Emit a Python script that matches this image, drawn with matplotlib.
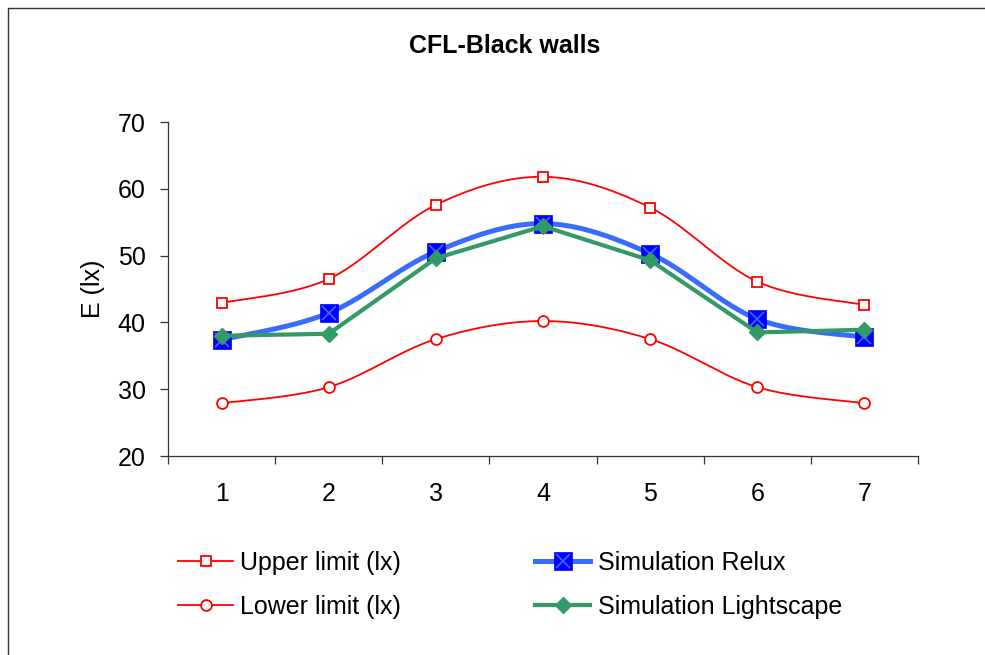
import numpy as np
import matplotlib
matplotlib.use("Agg")
import matplotlib.pyplot as plt
from matplotlib.lines import Line2D
from matplotlib.legend_handler import HandlerTuple

plt.rcParams['font.family'] = ['Liberation Sans', 'DejaVu Sans']

points = [1, 2, 3, 4, 5, 6, 7]
upper = [42.9, 46.5, 57.6, 61.8, 57.2, 46.1, 42.6]
lower = [27.9, 30.3, 37.5, 40.2, 37.5, 30.3, 27.9]
relux = [37.4, 41.4, 50.6, 54.8, 50.3, 40.5, 37.8]
lightscape = [38.0, 38.3, 49.6, 54.4, 49.3, 38.5, 38.9]
title = "CFL-Black walls"
ylabel = "E (lx)"
labels = ["Upper limit (lx)", "Lower limit (lx)", "Simulation Relux", "Simulation Lightscape"]


def smooth(x, y, n=30):
    """Excel-like smoothed line (Catmull-Rom as cubic Bezier)."""
    x = np.asarray(x, float)
    y = np.asarray(y, float)
    P = np.column_stack([x, y])
    out = []
    for i in range(len(P) - 1):
        p0 = P[i - 1] if i > 0 else P[i]
        p1 = P[i]
        p2 = P[i + 1]
        p3 = P[i + 2] if i + 2 < len(P) else P[i + 1]
        c1 = p1 + (p2 - p0) / 6.0
        c2 = p2 - (p3 - p1) / 6.0
        t = np.linspace(0, 1, n)[:, None]
        seg = ((1 - t) ** 3) * p1 + 3 * ((1 - t) ** 2) * t * c1 + 3 * (1 - t) * t ** 2 * c2 + t ** 3 * p2
        if i > 0:
            seg = seg[1:]
        out.append(seg)
    out = np.vstack(out)
    return out[:, 0], out[:, 1]


FS = 18
fig = plt.figure(figsize=(9.85, 6.55), dpi=100)
fig.patch.set_facecolor('white')
# chart-area border (top and left edges visible in the reference)
fig.add_artist(Line2D([8 / 985, 8 / 985, 1.0], [0.0, 1 - 8 / 655, 1 - 8 / 655],
                      transform=fig.transFigure, color='#333333', lw=1.0))

ax = fig.add_axes([168 / 985, 1 - 456 / 655, 750 / 985, 334 / 655])

red = '#FF0000'
blue_line = '#3A6BFF'
blue_mk = '#0000FF'
green = '#339966'

RED_LW = 1.3
sx, sy = smooth(points, upper)
ax.plot(sx, sy, color=red, lw=RED_LW, zorder=3)
ax.plot(points, upper, ls='none', marker='s', ms=7.2, mfc='white', mec=red, mew=1.3, zorder=4)

sx, sy = smooth(points, lower)
ax.plot(sx, sy, color=red, lw=RED_LW, zorder=3)
ax.plot(points, lower, ls='none', marker='o', ms=7.8, mfc='white', mec=red, mew=1.3, zorder=4)

sx, sy = smooth(points, relux)
ax.plot(sx, sy, color=blue_line, lw=3.6, zorder=3, solid_capstyle='butt')
ax.plot(points, relux, ls='none', marker='s', ms=12.5, mfc=blue_mk, mec=blue_mk, mew=0.5, zorder=4)
ax.plot(points, relux, ls='none', marker='x', ms=10, mec=blue_line, mew=1.2, zorder=5)

ax.plot(points, lightscape, color=green, lw=3.0, marker='D', ms=8, mfc=green, mec=green, zorder=6)

ax.set_xlim(0.5, 7.5)
ax.set_ylim(20, 70)
ax.set_yticks([20, 30, 40, 50, 60, 70])
ax.set_xticks(np.arange(0.5, 8.0, 1.0))
ax.set_xticklabels([])
ax.set_xticks(points, minor=True)
ax.set_xticklabels([str(p) for p in points], minor=True)
ax.tick_params(axis='x', which='major', direction='out', length=6, width=0.9, color='#333333')
ax.tick_params(axis='x', which='minor', length=0, pad=19, labelsize=FS)
ax.tick_params(axis='y', direction='out', length=6, width=0.9, labelsize=FS, pad=10, color='#333333')
for s in ['top', 'right']:
    ax.spines[s].set_visible(False)
for s in ['left', 'bottom']:
    ax.spines[s].set_linewidth(0.9)
    ax.spines[s].set_color('#333333')

ax.set_ylabel(ylabel, fontsize=FS)
ax.yaxis.set_label_coords((105 - 168) / 750, 0.5)
fig.text(505 / 985, 1 - 46 / 655, title, fontsize=FS, fontweight='bold', ha='center', va='center')

h_up = Line2D([], [], color=red, lw=RED_LW, marker='s', ms=7.2, mfc='white', mec=red, mew=1.3)
h_lo = Line2D([], [], color=red, lw=RED_LW, marker='o', ms=7.8, mfc='white', mec=red, mew=1.3)
h_re1 = Line2D([], [], color=blue_line, lw=3.6, marker='s', ms=12.5, mfc=blue_mk, mec=blue_mk, mew=0.5)
h_re2 = Line2D([], [], ls='none', marker='x', ms=10, mec=blue_line, mew=1.2)
h_li = Line2D([], [], color=green, lw=3.0, marker='D', ms=8, mfc=green, mec=green)

common = dict(frameon=False, fontsize=FS, handlelength=2.2, handletextpad=0.3,
              labelspacing=0.8, loc='center left', borderpad=0, borderaxespad=0,
              handler_map={tuple: HandlerTuple(ndivide=1, pad=0)})
leg1 = fig.legend([h_up, h_lo], labels[:2], bbox_to_anchor=(178 / 985, 1 - 585 / 655), **common)
leg2 = fig.legend([(h_re1, h_re2), h_li], labels[2:], bbox_to_anchor=(535 / 985, 1 - 585 / 655), **common)

fig.savefig('out.png', dpi=100, facecolor='white')
